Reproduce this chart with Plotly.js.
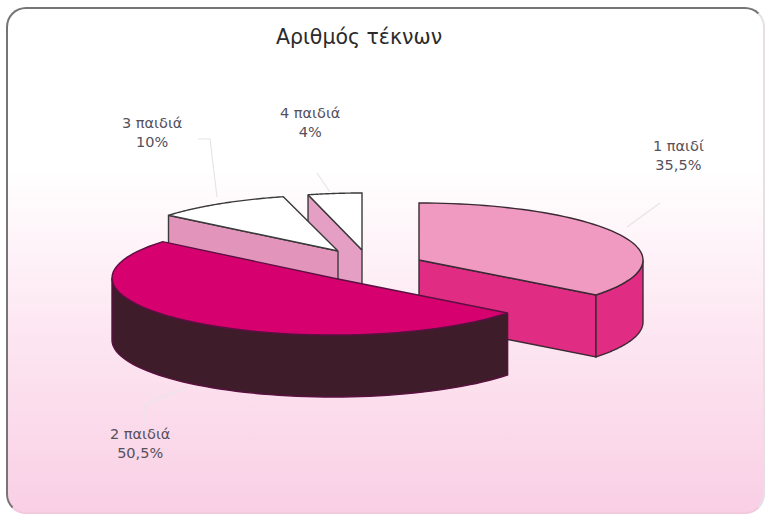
<!DOCTYPE html>
<html>
<head>
<meta charset="utf-8">
<script src="https://cdn.plot.ly/plotly-3.0.1.min.js"></script>
<style>
html,body{margin:0;padding:0;background:#fff;overflow:hidden;}
#frame{position:absolute;left:6px;top:7px;width:759px;height:507px;box-sizing:border-box;border-style:solid;border-width:2px;
border-color:#757575 #e6e0e4 #f3c9dc #757575;border-radius:20px;
background:linear-gradient(to bottom,#ffffff 0%,#ffffff 32%,#fde8f2 62%,#f9cfe5 100%);}
#chart{position:absolute;left:0;top:0;width:766px;height:515px;}
</style>
</head>
<body>
<div id="frame"></div>
<div id="chart"></div>
<script>
// Data
var categories = ["1 παιδί", "2 παιδιά", "3 παιδιά", "4 παιδιά"];
var values = [35.5, 50.5, 10, 4];
var valueLabels = ["35,5%", "50,5%", "10%", "4%"];
var titleText = "Αριθμός τέκνων";

// Exploded 3D-pie placement of each slice (page pixels)
var centreX = [419, 333, 338, 362];
var centreY = [260, 278, 251, 250];
var radiusX = [224, 221, 220, 217];
var radiusY = [57, 57, 56, 57];
var thickness = 62;
var topColours = ["#f09ac2", "#d6006f", "#ffffff", "#ffffff"];
var wallColours = ["#e02c82", "#3f1c2a", "#e394ba", "#e59fc4"];
var edgeColours = ["#3a2a33", "#5a1040", "#3a3a3a", "#3a3a3a"];
var drawOrder = [3, 2, 0, 1];

var labelX = [678, 140, 152, 310];
var labelY = [155, 443, 132, 122];
var leaderX = [[660, 627], [145, 145, 187], [198, 210, 217], [317, 330]];
var leaderY = [[203, 227], [425, 405, 387], [139, 139, 197], [173, 192]];

function pt(i, deg, dz) {
  var t = deg * Math.PI / 180;
  return [centreX[i] + radiusX[i] * Math.sin(t), centreY[i] - radiusY[i] * Math.cos(t) + (dz || 0)];
}
function poly(xs, ys, fill, line, w) {
  return {type: "scatter", mode: "lines", x: xs, y: ys, fill: "toself", fillcolor: fill,
    line: {color: line, width: w === undefined ? 1.4 : w, simplify: false}, hoverinfo: "skip", showlegend: false};
}
function sliceTraces(i, a0, a1) {
  var out = [], xs, ys, p, d, k, n = 60;
  var apex = [centreX[i], centreY[i]];
  function face(deg) {
    var q = pt(i, deg);
    return poly([apex[0], q[0], q[0], apex[0], apex[0]],
                [apex[1], q[1], q[1] + thickness, apex[1] + thickness, apex[1]],
                wallColours[i], edgeColours[i]);
  }
  // flat cut faces that look towards the viewer
  if (a1 < 180) out.push(face(a1));
  if (a0 > 180) out.push(face(a0));
  // curved outer wall, only where it faces the viewer (90deg to 270deg)
  var w0 = Math.max(a0, 90), w1 = Math.min(a1, 270);
  if (w1 > w0) {
    xs = []; ys = [];
    for (k = 0; k <= n; k++) { d = w0 + (w1 - w0) * k / n; p = pt(i, d); xs.push(p[0]); ys.push(p[1]); }
    for (k = n; k >= 0; k--) { d = w0 + (w1 - w0) * k / n; p = pt(i, d, thickness); xs.push(p[0]); ys.push(p[1]); }
    xs.push(xs[0]); ys.push(ys[0]);
    out.push(poly(xs, ys, wallColours[i], edgeColours[i]));
  }
  // top surface
  xs = [apex[0]]; ys = [apex[1]];
  for (k = 0; k <= n; k++) { d = a0 + (a1 - a0) * k / n; p = pt(i, d); xs.push(p[0]); ys.push(p[1]); }
  xs.push(apex[0]); ys.push(apex[1]);
  out.push(poly(xs, ys, topColours[i], edgeColours[i]));
  return out;
}

var total = values.reduce(function (s, v) { return s + v; }, 0);
var starts = [], acc = 0;
values.forEach(function (v) { starts.push(acc / total * 360); acc += v; });

var traces = [];
// leader lines
categories.forEach(function (c, i) {
  traces.push({type: "scatter", mode: "lines", x: leaderX[i], y: leaderY[i],
    line: {color: "#e9e4e7", width: 1.2}, hoverinfo: "skip", showlegend: false});
});
drawOrder.forEach(function (i) {
  traces = traces.concat(sliceTraces(i, starts[i], starts[i] + values[i] / total * 360));
});

var annotations = categories.map(function (c, i) {
  return {x: labelX[i], y: labelY[i], xref: "x", yref: "y", showarrow: false, align: "center",
    text: c + "<br>" + valueLabels[i],
    font: {family: "DejaVu Sans, Verdana, sans-serif", size: 14.5, color: "#55505a"}};
});

var layout = {
  width: 766, height: 515, autosize: false,
  margin: {l: 0, r: 0, t: 0, b: 0},
  paper_bgcolor: "rgba(0,0,0,0)", plot_bgcolor: "rgba(0,0,0,0)",
  title: {text: titleText, x: 359 / 766, xanchor: "center", y: 1 - 37 / 515, yanchor: "middle",
    font: {family: "DejaVu Sans, Verdana, sans-serif", size: 20.5, color: "#2b2b2b"}},
  xaxis: {range: [0, 766], visible: false, fixedrange: true},
  yaxis: {range: [515, 0], visible: false, fixedrange: true},
  showlegend: false,
  annotations: annotations
};
Plotly.newPlot("chart", traces, layout, {displayModeBar: false, staticPlot: true});
</script>
</body>
</html>
